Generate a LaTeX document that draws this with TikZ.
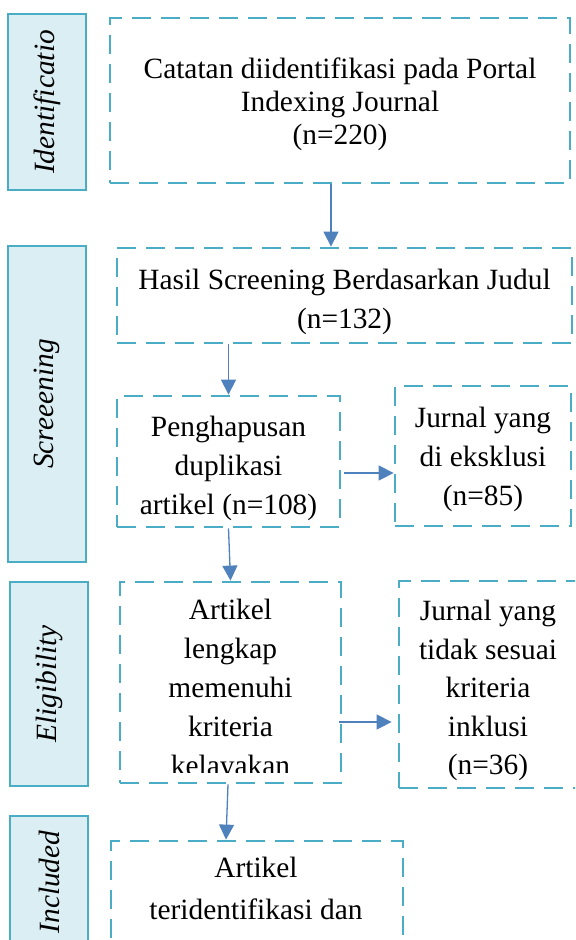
\documentclass[tikz,border=0pt]{standalone}
\usepackage{fontspec}
\setmainfont{Liberation Serif}
\usetikzlibrary{arrows.meta}
\definecolor{boxline}{RGB}{75,172,198}
\definecolor{sidefill}{RGB}{218,238,243}
\definecolor{flowline}{RGB}{79,129,189}
\tikzset{
  stagebox/.style={draw=boxline, line width=0.8pt, fill=sidefill, inner sep=0pt,
    minimum height=39pt, font=\fontsize{14.7}{17}\selectfont\itshape},
  stepbox/.style={draw=boxline, line width=1.4pt, dash pattern=on 9.5pt off 5pt,
    inner sep=0pt},
  steptext/.style={inner sep=0pt, align=center, font=\fontsize{14.7}{19.5}\selectfont},
  flow/.style={draw=flowline, line width=0.65pt, -{Triangle[width=7.5pt,length=7.5pt]}}
}
\begin{document}
\begin{tikzpicture}[x=0.5pt,y=-0.5pt]
  \useasboundingbox (0,0) rectangle (575,940);
  \clip (0,0) rectangle (575,940);
  \fill[white] (0,0) rectangle (575,940);

  % stage labels on the left
  \foreach \name/\x/\y/\h/\lab in {stid/47/102/176/Identificatio,
      stsc/47/404/316/Screeening, stel/49/684/204/Eligibility, stin/49/882/132/Included}
  {
    \node[stagebox, rotate=90, minimum width=\h*0.5pt] (\name) at (\x,\y) {\lab};
  }

  % step boxes
  \node[stepbox, minimum width=230pt, minimum height=82.5pt] (box1) at (340,100.5) {};
  \node[stepbox, minimum width=227.5pt, minimum height=47.5pt] (box2) at (344.5,295.5) {};
  \node[stepbox, minimum width=111.5pt, minimum height=65.5pt] (box3) at (228.5,461.5) {};
  \node[stepbox, minimum width=88pt, minimum height=70pt] (box4) at (483,456) {};
  \node[stepbox, minimum width=110.5pt, minimum height=100.5pt] (box5) at (230.5,682.5) {};
  \node[stepbox, minimum width=89pt, minimum height=103.5pt] (box6) at (488,684.5) {};
  \node[stepbox, minimum width=146pt, minimum height=75pt] (box7) at (257,916) {};

  % step texts
  \node[steptext, font=\fontsize{14.7}{16.5}\selectfont] (box1txt) at ([yshift=-2pt]box1.center)
    {Catatan diidentifikasi pada Portal\\Indexing Journal\\(n=220)};
  \node[steptext] (box2txt) at ([yshift=-3pt]box2.center)
    {Hasil Screening Berdasarkan Judul\\(n=132)};
  \node[steptext] (box3txt) at ([yshift=-3.5pt]box3.center)
    {Penghapusan\\duplikasi\\artikel (n=108)};
  \node[steptext] (box4txt) at ([yshift=-1.5pt]box4.center)
    {Jurnal yang\\di eksklusi\\(n=85)};
  \node[steptext, font=\fontsize{14.7}{19.25}\selectfont] (box6txt) at ([yshift=-3pt]box6.center)
    {Jurnal yang\\tidak sesuai\\kriteria\\inklusi\\(n=36)};
  \begin{scope}
    \clip (125,588) rectangle (336,772);
    \node[steptext, anchor=north] (box5txt) at (230.5,599)
      {Artikel\\lengkap\\memenuhi\\kriteria\\kelayakan};
  \end{scope}
  \node[steptext, anchor=north, font=\fontsize{14.7}{21}\selectfont] (box7txt) at (256,857)
    {Artikel\\teridentifikasi dan};

  % connectors
  \coordinate (a1) at ([xshift=-4.5pt]box1.south);
  \draw[flow] (a1) -- (a1 |- box2.north);
  \draw[flow] (box3.north |- box2.south) -- (box3.north);
  \coordinate (a3) at ([xshift=1.5pt,yshift=-5.75pt]box3.east);
  \draw[flow] (a3) -- (a3 -| box4.west);
  \draw[flow] (box3.south) -- (box5.north);
  \coordinate (a5) at ([xshift=-1.5pt,yshift=-19.75pt]box5.east);
  \draw[flow, shorten >=3pt] (a5) -- (a5 -| box6.west);
  \draw[flow] ([xshift=-1.25pt]box5.south) -- ([xshift=-15.5pt]box7.north);
\end{tikzpicture}
\end{document}
